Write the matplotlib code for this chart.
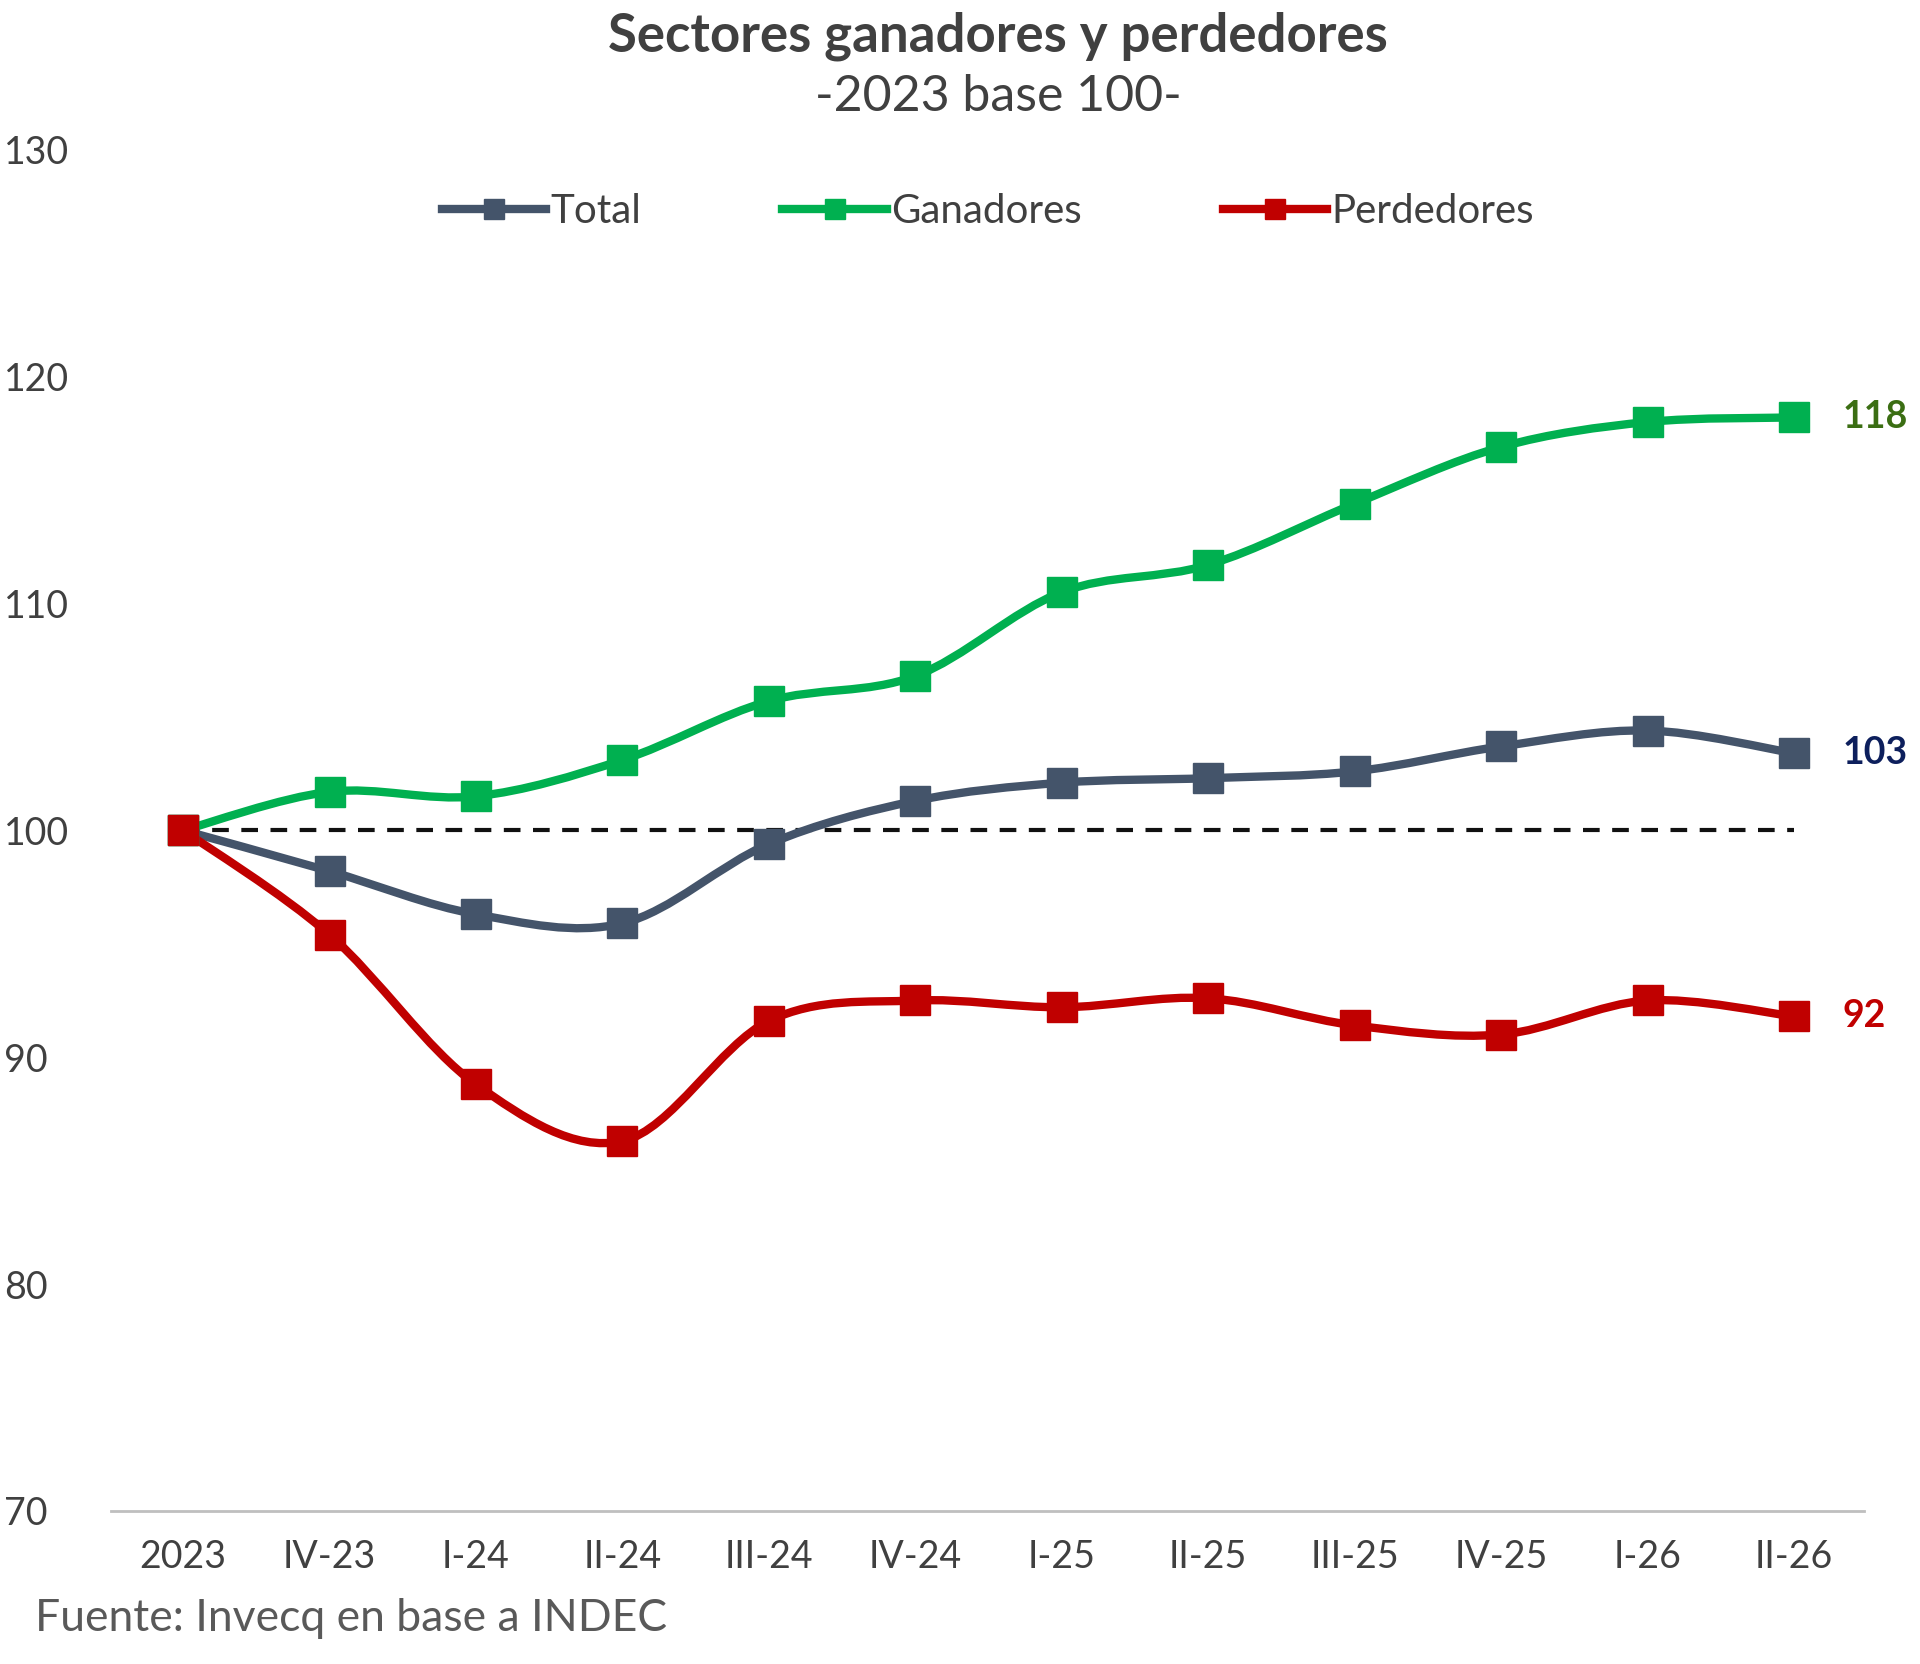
import numpy as np
import matplotlib.pyplot as plt
from matplotlib.path import Path
from matplotlib.patches import PathPatch

periods = ["2023", "IV-23", "I-24", "II-24", "III-24", "IV-24", "I-25", "II-25",
           "III-25", "IV-25", "I-26", "II-26"]
total = [100, 98.2, 96.3, 95.9, 99.4, 101.3, 102.1, 102.3, 102.6, 103.7, 104.4, 103.4]
ganadores = [100, 101.7, 101.5, 103.1, 105.7, 106.8, 110.5, 111.7, 114.4, 116.9, 118.0, 118.2]
perdedores = [100, 95.4, 88.8, 86.3, 91.6, 92.5, 92.2, 92.6, 91.4, 91.0, 92.5, 91.8]

plt.rcParams['font.family'] = ['Lato', 'DejaVu Sans']

def smooth_patch(x, y, color):
    # Catmull-Rom converted to cubic Bezier, for the smoothed line look
    pts = np.column_stack([x, y]).astype(float)
    verts = [pts[0]]
    codes = [Path.MOVETO]
    n = len(pts)
    for i in range(n - 1):
        p0 = pts[max(i - 1, 0)]
        p1, p2 = pts[i], pts[i + 1]
        p3 = pts[min(i + 2, n - 1)]
        verts += [p1 + (p2 - p0) / 6, p2 - (p3 - p1) / 6, p2]
        codes += [Path.CURVE4] * 3
    return PathPatch(Path(verts, codes), fill=False, edgecolor=color, lw=6,
                     capstyle='round', joinstyle='round')

fig = plt.figure(figsize=(19.2, 16.64), dpi=100)
ax = fig.add_axes([0.058, 0.092, 0.913, 0.818])
x = np.arange(len(periods))

ax.plot([0, 11], [100, 100], ls=(0, (4, 3)), color='#111111', lw=3, zorder=1)

series = [("Total", total, '#44546A'), ("Ganadores", ganadores, '#00B050'),
          ("Perdedores", perdedores, '#C00000')]
for name, vals, col in series:
    ax.add_patch(smooth_patch(x, vals, col))
    ax.plot(x, vals, ls='none', marker='s', ms=22, color=col, zorder=3)
    ax.plot([], [], color=col, lw=6, marker='s', ms=14, label=name)

ax.text(11.33, 118.2, "118", color='#3B6E13', fontsize=27, fontweight='bold', va='center')
ax.text(11.33, 103.4, "103", color='#0D1F5C', fontsize=27, fontweight='bold', va='center')
ax.text(11.33, 91.8, "92", color='#C00000', fontsize=27, fontweight='bold', va='center')

ax.set_xlim(-0.49, 11.48)
ax.set_ylim(70, 130)
ax.set_yticks(range(70, 131, 10))
ax.set_xticks(x)
ax.set_xticklabels(periods)
ax.tick_params(axis='both', length=0, labelsize=27, colors='#404040')
ax.tick_params(axis='x', pad=20)
ax.tick_params(axis='y', pad=8)
for lab in ax.get_yticklabels():
    lab.set_horizontalalignment('left')
    lab.set_x(-0.055)
for s in ['top', 'right', 'left']:
    ax.spines[s].set_visible(False)
ax.spines['bottom'].set_color('#BFBFBF')
ax.spines['bottom'].set_linewidth(2)

ax.legend(loc='upper center', bbox_to_anchor=(0.5, 0.995), ncol=3, frameon=False,
          fontsize=29, handlelength=2.6, handletextpad=0.1, columnspacing=3.5,
          labelcolor='#404040')

fig.text(0.52, 0.978, "Sectores ganadores y perdedores", ha='center', va='center',
         fontsize=38, fontweight='bold', color='#404040')
fig.text(0.52, 0.942, "-2023 base 100-", ha='center', va='center', fontsize=36, color='#404040')
fig.text(0.018, 0.02, "Fuente: Invecq en base a INDEC", fontsize=32, color='#595959')

fig.savefig("out.png", dpi=100)
